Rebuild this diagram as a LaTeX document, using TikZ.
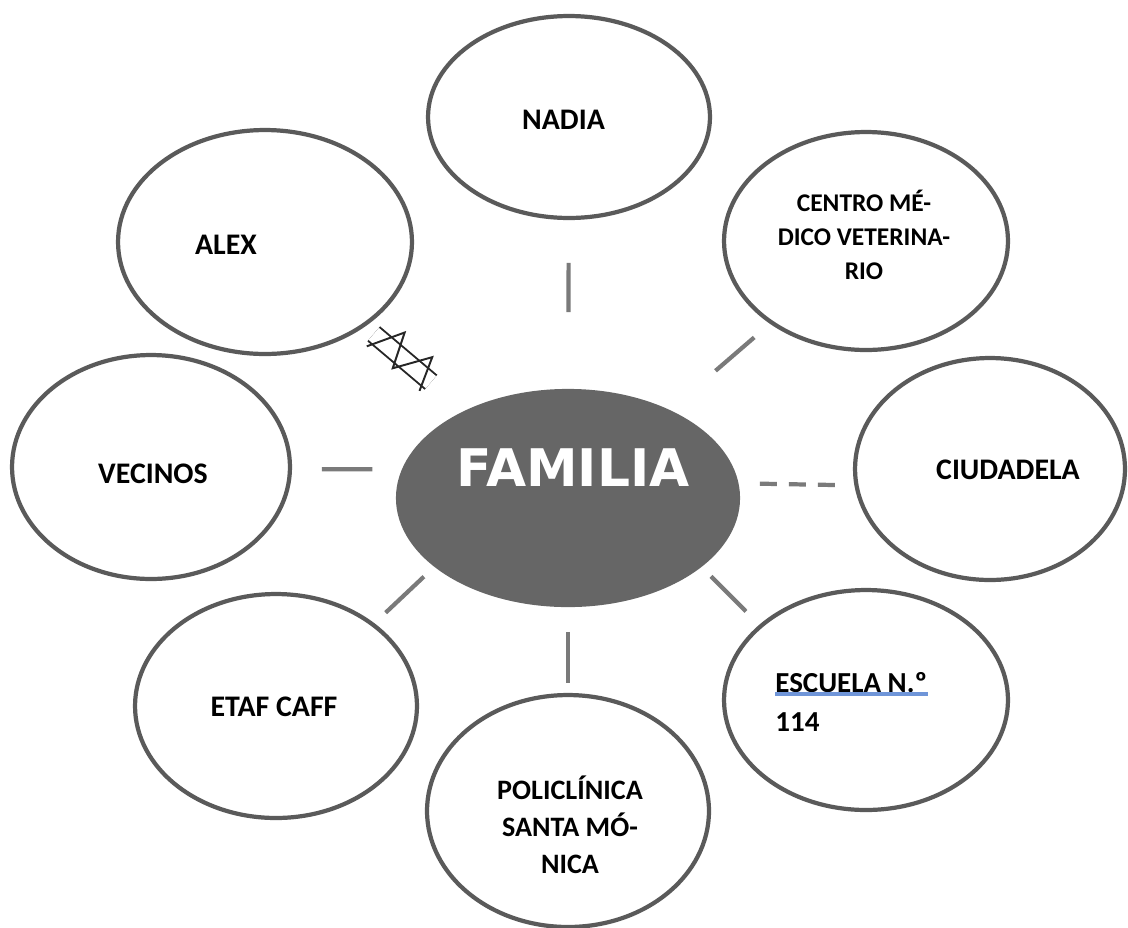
\documentclass[tikz,border=0pt]{standalone}
\usepackage{fontspec}
\setmainfont{Carlito}
\newfontfamily\famfont{DejaVu Sans}
\usepackage{tikz}
\usetikzlibrary{shapes.geometric}
\usetikzlibrary{calc}
\usetikzlibrary{positioning}
\definecolor{grisborde}{HTML}{5A5A5A}
\definecolor{grislinea}{HTML}{7A7A7A}
\definecolor{grisfondo}{HTML}{666666}
\definecolor{azulsub}{HTML}{6F95D8}

\begin{document}
\begin{tikzpicture}[x=0.02cm,y=-0.02cm]
% definición de los estilos
\tikzstyle burbuja=[ellipse,draw=grisborde,line width=2.4pt,fill=white,outer sep=0pt,inner sep=0pt]
\tikzstyle texto=[font=\bfseries\fontsize{17}{20}\selectfont,align=center,inner sep=0pt]
\tikzstyle enlace=[draw=grislinea,line width=2.4pt]
\tikzstyle conflicto=[draw=black!85,line width=1.1pt]
\useasboundingbox (0,0) rectangle (1128,927);
\clip (0,0) rectangle (1128,927);
% las burbujas
\node[burbuja,minimum width=5.64cm,minimum height=4.04cm] (nadia) at (569,117) {};
\node[burbuja,minimum width=5.88cm,minimum height=4.48cm] (alex) at (265,242) {};
\node[burbuja,minimum width=5.68cm,minimum height=4.36cm] (centro) at (866,241) {};
\node[burbuja,minimum width=5.40cm,minimum height=4.44cm] (ciud) at (990,469) {};
\node[burbuja,minimum width=5.56cm,minimum height=4.48cm] (vec) at (151,467) {};
\node[burbuja,minimum width=5.64cm,minimum height=4.48cm] (etaf) at (276,706) {};
\node[burbuja,minimum width=5.68cm,minimum height=4.40cm] (esc) at (866,700) {};
\node[burbuja,minimum width=5.64cm,minimum height=4.64cm] (poli) at (568,811) {};
\node[burbuja,draw=grisfondo,fill=grisfondo,minimum width=6.80cm,minimum height=4.28cm] (fam) at (568,498) {};
% los textos
\node[texto] (nadiat) at (563.5,120) {NADIA};
\node[texto] (alext) at (226,244.5) {ALEX};
\node[texto,font=\bfseries\fontsize{14.5}{19.3}\selectfont] (centrot) at (864,235) {CENTRO MÉ-\\DICO VETERINA-\\RIO};
\node[texto] (ciudt) at (1008,470) {CIUDADELA};
\node[texto] (vect) at (153,474) {VECINOS};
\node[texto] (etaft) at (274,707) {ETAF CAFF};
\node[texto,font=\bfseries\fontsize{16}{21}\selectfont] (polit) at (570,825) {POLICLÍNICA\\SANTA MÓ-\\NICA};
\node[texto,align=left,anchor=west,font=\bfseries\fontsize{16.5}{22.7}\selectfont] (esct) at (775,702) {ESCUELA N.º\\114};
\node[texto,text=white,font=\famfont\bfseries\fontsize{29.5}{33}\selectfont] (famt) at (573,467.5) {FAMILIA};
\draw[azulsub,line width=2.2pt] ([yshift=-0.45cm]esct.north west) -- ([yshift=-0.45cm]esct.north east);
% los enlaces
\draw[enlace,shorten <=1.58cm,shorten >=0.9cm] (fam) -- (nadia);
\draw[enlace,shorten <=1.25cm,shorten >=0.46cm] (fam) -- (centro);
\draw[enlace,dash pattern=on 0.34cm off 0.24cm,shorten <=0.47cm,shorten >=0.43cm] (fam.5.1) -- (ciud.187.7);
\draw[enlace,shorten <=0.31cm,shorten >=0.42cm] (fam.-27.4) -- (esc.145.4);
\draw[enlace,shorten <=0.54cm,shorten >=0.24cm] (fam) -- (poli);
\draw[enlace,shorten <=0.33cm,shorten >=0.35cm] (fam.207.4) -- (etaf.40.7);
\draw[enlace,shorten <=0.64cm,shorten >=0.64cm] (fam.170.3) -- (vec.-1.2);
% relación conflictiva con ALEX
\draw[conflicto,double,double distance=9pt,shorten <=0.27cm,shorten >=0.93cm] (alex) -- (fam);
\begin{scope}[shift={($(alex)!0.459!(fam)$)},rotate=-40.2,x=0.02cm,y=0.02cm]
\draw[conflicto] (-37,-14) -- (-17,21) -- (-3,-14) -- (20,20) -- (32,-14);
\end{scope}
\end{tikzpicture}
\end{document}
